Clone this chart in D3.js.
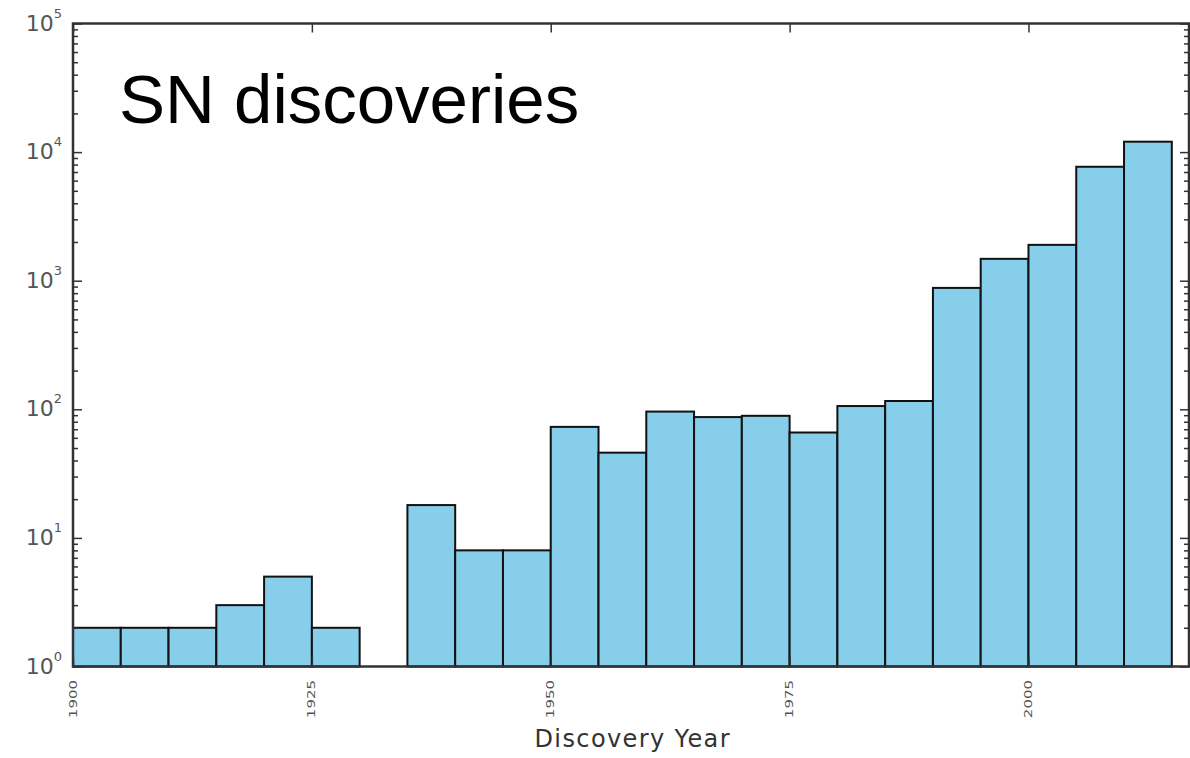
<!DOCTYPE html>
<meta charset="utf-8">
<title>SN discoveries</title>
<style>
body { margin: 0; background: #fff; }
</style>
<svg width="1190" height="758"></svg>
<script src="https://d3js.org/d3.v7.min.js"></script>
<script>

// bin start years (5 year bins) and counts per bin
var binStarts = [1900, 1905, 1910, 1915, 1920, 1925, 1930, 1935, 1940, 1945, 1950, 1955,
                 1960, 1965, 1970, 1975, 1980, 1985, 1990, 1995, 2000, 2005, 2010];
var counts = [2, 2, 2, 3, 5, 2, 0, 18, 8, 8, 73, 46,
              96, 87, 89, 66, 106, 116, 879, 1479, 1900, 7690, 12050];
var binWidth = 5;

var xTickValues = [1900, 1925, 1950, 1975, 2000];
var yDecades = [0, 1, 2, 3, 4, 5];
var xLabel = "Discovery Year";
var title = "SN discoveries";

var svg = d3.select("svg");

// plot box (don't call it "top", that's window.top)
var boxL = 73, boxR = 1189, boxT = 23.5, boxB = 666.5;

var x = d3.scaleLinear()
    .domain([1900, 2016.8])
    .range([boxL, boxR]);

var y = d3.scaleLog()
    .domain([1, 1e5])
    .range([boxB, boxT]);

var bins = binStarts.map(function(d, i) { return {x0: d, x1: d + binWidth, n: counts[i]}; })
    .filter(function(d) { return d.n > 0; });

//the bars
svg.append("g")
  .selectAll("rect")
    .data(bins)
  .enter().append("rect")
    .attr("x", function(d) { return x(d.x0); })
    .attr("width", function(d) { return x(d.x1) - x(d.x0); })
    .attr("y", function(d) { return y(d.n); })
    .attr("height", function(d) { return boxB - y(d.n); })
    .attr("fill", "#87ceeb")
    .attr("stroke", "#111")
    .attr("stroke-width", 2);

//log ticks, majors at each decade and minors at 2..9
var yTicks = [];
yDecades.forEach(function(e) {
  for (var m = 1; m < 10; m++) {
    var v = m * Math.pow(10, e);
    if (v <= 1e5) yTicks.push(v);
  }
});
function isMajor(v) { return Math.abs(Math.log10(v) - Math.round(Math.log10(v))) < 1e-9; }

var yl = svg.append("g")
    .attr("transform", "translate(" + boxL + ",0)")
    .call(d3.axisLeft(y).tickValues(yTicks).tickSize(-9).tickFormat(""));
yl.selectAll(".tick line").attr("x2", function(d) { return isMajor(d) ? 9 : 5; });

var yr = svg.append("g")
    .attr("transform", "translate(" + boxR + ",0)")
    .call(d3.axisRight(y).tickValues(yTicks).tickSize(-9).tickFormat(""));
yr.selectAll(".tick line").attr("x2", function(d) { return isMajor(d) ? -9 : -5; });

svg.append("g")
    .attr("transform", "translate(0," + boxT + ")")
    .call(d3.axisTop(x).tickValues(xTickValues).tickSize(-9).tickFormat(""));

svg.append("g")
    .attr("transform", "translate(0," + boxB + ")")
    .call(d3.axisBottom(x).tickValues(xTickValues).tickSize(-9).tickFormat(""));

svg.selectAll(".domain").remove();
svg.selectAll(".tick line").attr("stroke", "#333").attr("stroke-width", 1.5);

//frame
svg.append("rect")
    .attr("x", boxL)
    .attr("y", boxT)
    .attr("width", boxR - boxL)
    .attr("height", boxB - boxT)
    .attr("fill", "none")
    .attr("stroke", "#333")
    .attr("stroke-width", 2.5);

//y labels 10^n
var ylab = svg.append("g")
  .selectAll("text")
    .data(yDecades)
  .enter().append("text")
    .attr("x", 62)
    .attr("y", function(d) { return y(Math.pow(10, d)) + 7; })
    .attr("text-anchor", "end")
    .attr("fill", "#555")
    .attr("font-family", "DejaVu Sans")
    .attr("font-size", 22);
ylab.append("tspan").text("10");
ylab.append("tspan")
    .attr("dy", -13)
    .attr("font-size", 13)
    .text(function(d) { return d; });

//x labels, rotated
svg.append("g")
  .selectAll("text")
    .data(xTickValues)
  .enter().append("text")
    .attr("transform", function(d) { return "translate(" + x(d) + ",680) rotate(-90) scale(1.5,1)"; })
    .attr("text-anchor", "end")
    .attr("dominant-baseline", "central")
    .attr("fill", "#555")
    .attr("font-family", "DejaVu Sans")
    .attr("font-size", 10)
    .text(function(d) { return d; });

svg.append("text")
    .attr("x", 632)
    .attr("y", 747)
    .attr("text-anchor", "middle")
    .attr("fill", "#333")
    .attr("font-family", "DejaVu Sans")
    .attr("font-size", 24)
    .attr("textLength", 195)
    .text(xLabel);

svg.append("text")
    .attr("x", 119)
    .attr("y", 123)
    .attr("fill", "#000")
    .attr("font-family", "Liberation Sans, Arial, sans-serif")
    .attr("font-size", 69)
    .text(title);

</script>
